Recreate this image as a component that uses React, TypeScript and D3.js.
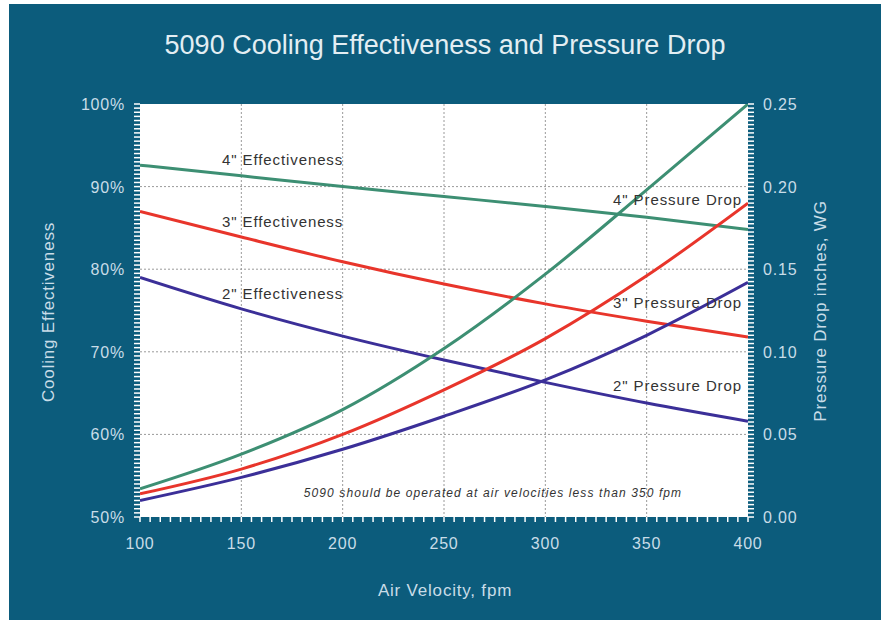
import React from "react";
import * as d3 from "d3";

const velocities = [100, 150, 200, 250, 300, 350, 400];
const eff4 = [92.6, 91.3, 90.0, 88.8, 87.6, 86.3, 84.8];
const eff3 = [87.0, 83.9, 80.9, 78.2, 75.8, 73.7, 71.8];
const eff2 = [79.0, 75.2, 71.9, 69.0, 66.3, 63.8, 61.6];
const pd4 = [0.017, 0.038, 0.065, 0.102, 0.147, 0.198, 0.25];
const pd3 = [0.014, 0.029, 0.05, 0.077, 0.108, 0.146, 0.19];
const pd2 = [0.01, 0.024, 0.041, 0.061, 0.083, 0.11, 0.142];

const xTicks = [100, 150, 200, 250, 300, 350, 400];
const leftTicks = [50, 60, 70, 80, 90, 100];
const rightTicks = [0, 0.05, 0.1, 0.15, 0.2, 0.25];

const title = "5090 Cooling Effectiveness and Pressure Drop";
const note = "5090 should be operated at air velocities less than 350 fpm";

const BG = "#0c5c7c";
const TXT = "#c9dde8";
const GREEN = "#3d8f73";
const RED = "#e8352b";
const BLUE = "#3b2f98";
const FONT = "'Liberation Sans', Arial, Helvetica, sans-serif";

export default function App() {
  const L = 140, R = 748, T = 104, B = 517;
  const x = d3.scaleLinear().domain([100, 400]).range([L, R]);
  const yL = d3.scaleLinear().domain([50, 100]).range([B, T]);
  const yR = d3.scaleLinear().domain([0, 0.25]).range([B, T]);

  const effLine = (vals: number[]) =>
    d3
      .line<number>()
      .x((_, i) => x(velocities[i]))
      .y((d) => yL(d))
      .curve(d3.curveMonotoneX)(vals) || "";
  const pdLine = (vals: number[]) =>
    d3
      .line<number>()
      .x((_, i) => x(velocities[i]))
      .y((d) => yR(d))
      .curve(d3.curveMonotoneX)(vals) || "";

  const minorX = d3.range(100, 400.001, 5);
  const minorY = d3.range(50, 100.001, 0.5);
  const minorYR = d3.range(0, 0.25001, 0.0025);

  const curves = [
    { d: effLine(eff4), c: GREEN },
    { d: effLine(eff3), c: RED },
    { d: effLine(eff2), c: BLUE },
    { d: pdLine(pd4), c: GREEN },
    { d: pdLine(pd3), c: RED },
    { d: pdLine(pd2), c: BLUE },
  ];

  return (
    <svg
      width={881}
      height={622}
      style={{ position: "absolute", left: 0, top: 0 }}
      fontFamily={FONT}
    >
      <rect x={0} y={0} width={881} height={622} fill="#fff" />
      <rect x={9} y={4} width={872} height={616} fill={BG} />
      <text x={445} y={54} textAnchor="middle" fill="#e3eef3" fontSize={27}>
        {title}
      </text>
      <rect x={L} y={T} width={R - L} height={B - T} fill="#fff" />
      {/* grid */}
      {xTicks.slice(1, -1).map((t) => (
        <line key={"gx" + t} x1={x(t)} x2={x(t)} y1={T} y2={B} stroke="#9a9a9a" strokeDasharray="2,2" strokeWidth={1} />
      ))}
      {leftTicks.slice(1, -1).map((t) => (
        <line key={"gy" + t} x1={L} x2={R} y1={yL(t)} y2={yL(t)} stroke="#9a9a9a" strokeDasharray="2,2" strokeWidth={1} />
      ))}
      {/* minor ticks */}
      {minorX.map((t) => (
        <line key={"mx" + t} x1={x(t)} x2={x(t)} y1={B} y2={B + 5} stroke="#fff" strokeWidth={1.5} />
      ))}
      {minorY.map((t) => (
        <line key={"my" + t} x1={L - 6} x2={L} y1={yL(t)} y2={yL(t)} stroke="#fff" strokeWidth={1.5} />
      ))}
      {minorYR.map((t) => (
        <line key={"myr" + t} x1={R} x2={R + 6} y1={yR(t)} y2={yR(t)} stroke="#fff" strokeWidth={1.5} />
      ))}
      {/* curves */}
      <defs>
        <clipPath id="clip">
          <rect x={L} y={T} width={R - L} height={B - T} />
        </clipPath>
      </defs>
      <g clipPath="url(#clip)">
        {curves.map((c, i) => (
          <path key={i} d={c.d} fill="none" stroke={c.c} strokeWidth={3} />
        ))}
      </g>
      {/* in-plot labels */}
      <g fill="#333" fontSize={15} letterSpacing={0.9}>
        <text x={222} y={165}>4" Effectiveness</text>
        <text x={222} y={227}>3" Effectiveness</text>
        <text x={222} y={299}>2" Effectiveness</text>
        <text x={742} y={205} textAnchor="end">4" Pressure Drop</text>
        <text x={742} y={308} textAnchor="end">3" Pressure Drop</text>
        <text x={742} y={391} textAnchor="end">2" Pressure Drop</text>
      </g>
      <text x={493} y={497} textAnchor="middle" fill="#333" fontSize={12} letterSpacing={1.1} fontStyle="italic">
        {note}
      </text>
      {/* tick labels */}
      <g fill={TXT} fontSize={16} letterSpacing={0.8}>
        {leftTicks.map((t) => (
          <text key={"lt" + t} x={125} y={yL(t) + 6} textAnchor="end">
            {t + "%"}
          </text>
        ))}
        {rightTicks.map((t) => (
          <text key={"rt" + t} x={763} y={yR(t) + 6}>
            {t.toFixed(2)}
          </text>
        ))}
        {xTicks.map((t) => (
          <text key={"xt" + t} x={x(t)} y={549} textAnchor="middle">
            {t}
          </text>
        ))}
      </g>
      <g fill={TXT} fontSize={17} letterSpacing={0.8}>
        <text x={445} y={596} textAnchor="middle">
          Air Velocity, fpm
        </text>
        <text transform="translate(54,312) rotate(-90)" textAnchor="middle">
          Cooling Effectiveness
        </text>
        <text transform="translate(826,311) rotate(-90)" textAnchor="middle">
          Pressure Drop inches, WG
        </text>
      </g>
    </svg>
  );
}
